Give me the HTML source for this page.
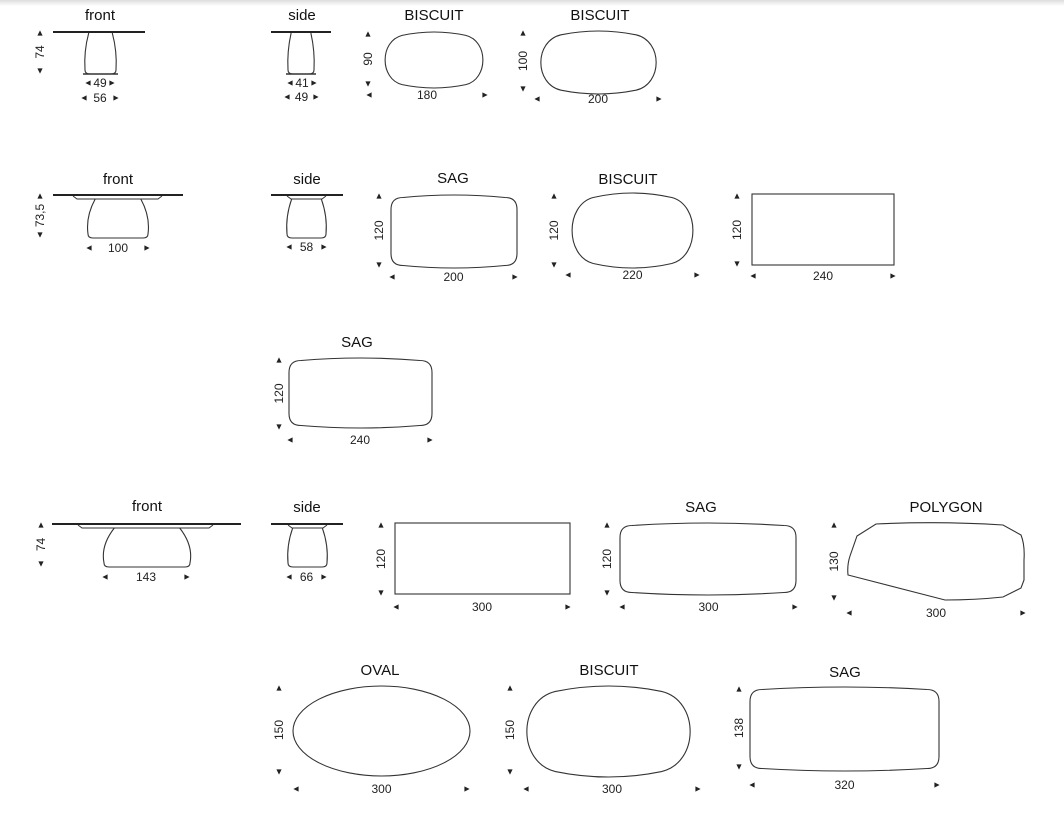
<!DOCTYPE html>
<html><head><meta charset="utf-8"><style>
html,body{margin:0;padding:0;background:#fff;width:1064px;height:835px;overflow:hidden}
svg{display:block}
.t{font-family:"Liberation Sans",sans-serif;font-size:15px;fill:#111;text-anchor:middle}
.d{font-family:"Liberation Sans",sans-serif;font-size:12px;fill:#222;text-anchor:middle}
</style></head><body>
<svg id="s" width="1064" height="835" xmlns="http://www.w3.org/2000/svg">
<defs><linearGradient id="g" x1="0" y1="0" x2="0" y2="1"><stop offset="0" stop-color="#ddd"/><stop offset="1" stop-color="#fff"/></linearGradient></defs>
<rect x="0" y="0" width="1064" height="6" fill="url(#g)"/>
</svg>
<script>
(function(){
var s=document.getElementById('s'),h='';
function T(x,y,t){h+='<text class="t" x="'+x+'" y="'+y+'">'+t+'</text>';}
function P(d,w){h+='<path d="'+d+'" fill="none" stroke="#333" stroke-width="'+(w||1.1)+'"/>';}
function ar(x,y,dir){var a=2.6;var p;
 if(dir=='u')p=[x,y-a,x-a,y+a,x+a,y+a];else if(dir=='d')p=[x,y+a,x-a,y-a,x+a,y-a];
 else if(dir=='l')p=[x-a,y,x+a,y-a,x+a,y+a];else p=[x+a,y,x-a,y-a,x-a,y+a];
 h+='<polygon points="'+p.join(',')+'" fill="#222"/>';}
function V(x,y1,y2,t){ar(x,y1,'u');ar(x,y2,'d');h+='<text class="d" transform="translate('+(x+4)+','+((y1+y2)/2)+') rotate(-90)">'+t+'</text>';}
function H(y,x1,x2,t){ar(x1,y-4,'l');ar(x2,y-4,'r');h+='<text class="d" x="'+((x1+x2)/2)+'" y="'+y+'">'+t+'</text>';}
function biscuit(x0,y0,x1,y1){var w=x1-x0,hh=y1-y0;
 P('M'+(x0+.2*w)+','+(y0+.06*hh)+' Q'+(x0+.5*w)+','+(y0-.06*hh)+' '+(x0+.8*w)+','+(y0+.06*hh)+' C'+(x1+.015*w)+','+(y0+.16*hh)+' '+(x1+.015*w)+','+(y1-.16*hh)+' '+(x0+.8*w)+','+(y1-.06*hh)+' Q'+(x0+.5*w)+','+(y1+.06*hh)+' '+(x0+.2*w)+','+(y1-.06*hh)+' C'+(x0-.015*w)+','+(y1-.16*hh)+' '+(x0-.015*w)+','+(y0+.16*hh)+' '+(x0+.2*w)+','+(y0+.06*hh)+'Z');}
function sag(x0,y0,x1,y1){var d=2.5,r=12,cx=(x0+x1)/2;
 P('M'+x0+','+(y0+r+d)+' Q'+x0+','+(y0+d)+' '+(x0+r)+','+(y0+d)+' Q'+cx+','+(y0-d)+' '+(x1-r)+','+(y0+d)+' Q'+x1+','+(y0+d)+' '+x1+','+(y0+r+d)+' L'+x1+','+(y1-r-d)+' Q'+x1+','+(y1-d)+' '+(x1-r)+','+(y1-d)+' Q'+cx+','+(y1+d)+' '+(x0+r)+','+(y1-d)+' Q'+x0+','+(y1-d)+' '+x0+','+(y1-r-d)+'Z');}
function base(x0,y0,x1,y1){var w=x1-x0;
 P('M'+(x0+w*.12)+','+y0+' Q'+(x0-w*.04)+','+(y0+(y1-y0)*.45)+' '+x0+','+(y1-4)+' Q'+x0+','+y1+' '+(x0+5)+','+y1+' L'+(x1-5)+','+y1+' Q'+x1+','+y1+' '+x1+','+(y1-4)+' Q'+(x1+w*.04)+','+(y0+(y1-y0)*.45)+' '+(x1-w*.12)+','+y0);}
function tline(x0,x1,y){h+='<line x1="'+x0+'" y1="'+y+'" x2="'+x1+'" y2="'+y+'" stroke="#222" stroke-width="2"/>';}
function plate(x0,x1,y){P('M'+x0+','+y+' L'+(x0+4)+','+(y+3)+' L'+(x1-4)+','+(y+3)+' L'+x1+','+y,1);}
// Row 1
T(100,20,'front');tline(53,145,32);base(85,33,116,74);h+='<line x1="83" y1="74" x2="118" y2="74" stroke="#333" stroke-width="1.5"/>';
V(40,33,71,'74');H(87,88,112,'49');H(102,84,116,'56');
T(302,20,'side');tline(271,331,32);base(288,33,314,74);h+='<line x1="286" y1="74" x2="316" y2="74" stroke="#333" stroke-width="1.5"/>';
H(87,290,314,'41');H(101,287,316,'49');
T(434,20,'BISCUIT');biscuit(381,32,487,88);V(368,34,84,'90');H(99,369,485,'180');
T(600,20,'BISCUIT');biscuit(536,31,661,94);V(523,33,89,'100');H(103,537,659,'200');
// Row 2
T(118,184,'front');tline(53,183,195);plate(73,162,196);base(88,199,148,238);
V(40,196,235,'73,5');H(252,89,147,'100');
T(307,184,'side');tline(271,343,195);plate(287,326,196);base(287,199,326,238);H(251,289,324,'58');
T(453,183,'SAG');sag(391,195,517,268);V(379,196,265,'120');H(281,392,515,'200');
T(628,184,'BISCUIT');biscuit(567,193,698,268);V(554,196,265,'120');H(279,568,697,'220');
h+='<rect x="752" y="194" width="142" height="71" fill="none" stroke="#333" stroke-width="1.1"/>';
V(737,196,264,'120');H(280,753,893,'240');
// Row 3
T(357,347,'SAG');sag(289,358,432,428);V(279,360,427,'120');H(444,290,430,'240');
// Row 4
T(147,511,'front');tline(52,241,524);plate(78,213,525);base(104,528,190,567);
V(41,525,564,'74');H(581,105,187,'143');
T(307,512,'side');tline(271,343,524);plate(288,327,525);base(288,528,327,567);H(581,289,324,'66');
h+='<rect x="395" y="523" width="175" height="71" fill="none" stroke="#333" stroke-width="1.1"/>';
V(381,525,593,'120');H(611,396,568,'300');
T(701,512,'SAG');sag(620,523,796,595);V(607,525,593,'120');H(611,622,795,'300');
T(946,512,'POLYGON');
P('M876,524 Q940,521 1003,525 L1021,535 Q1025,545 1024,560 L1024,580 L1021,588 L1003,597 Q975,600 945,600 L848,575 Q847,565 850,556 L857,536 Z');
V(834,525,598,'130');H(617,849,1023,'300');
// Row 5
T(380,675,'OVAL');h+='<ellipse cx="381.5" cy="731" rx="88.5" ry="45" fill="none" stroke="#333" stroke-width="1.1"/>';
V(279,688,772,'150');H(793,296,467,'300');
T(609,675,'BISCUIT');biscuit(520,686,697,777);V(510,688,772,'150');H(793,526,698,'300');
T(845,677,'SAG');sag(750,687,939,771);V(739,689,767,'138');H(789,752,937,'320');
s.insertAdjacentHTML('beforeend',h);
})();
</script>
</body></html>
